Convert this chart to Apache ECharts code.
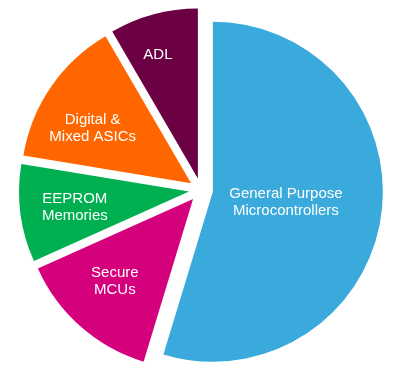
<!DOCTYPE html>
<html>
<head>
<meta charset="utf-8">
<script src="https://cdn.jsdelivr.net/npm/echarts@6/dist/echarts.min.js"></script>
<style>
  html, body { margin: 0; padding: 0; background: #fff; }
  #main { width: 417px; height: 377px; }
</style>
</head>
<body>
<div id="main"></div>
<script>
// 数据（从图上估读的份额，单位：%）
var names = ['General Purpose\nMicrocontrollers', 'Secure\nMCUs', 'EEPROM\nMemories', 'Digital &\nMixed ASICs', 'ADL'];
var values = [54.7, 13.6, 9.3, 14.0, 8.4];
var colors = ['#3aa9dc', '#d5007b', '#00b050', '#ff6600', '#6b0043'];

// 标签微调
var labelShift = [[-14, -2], [-20, 16], [-27, 5], [-26, -5], [-17, -39]];

var pie = echarts.init(document.getElementById('main'));

var seriesData = [];
names.forEach(function (n, i) {
    seriesData.push({
        name: n,
        value: values[i],
        selected: true,
        itemStyle: { color: colors[i] }
    });
});

var option = {
    animation: false,
    series: [
        {
            type: 'pie',
            center: [201, 190],
            radius: 170,
            startAngle: 90,
            clockwise: true,
            selectedMode: 'multiple',
            selectedOffset: 12,
            avoidLabelOverlap: false,
            label: {
                show: true,
                position: 'inside',
                color: '#fff',
                fontFamily: 'Liberation Sans, Arial, sans-serif',
                fontSize: 15,
                lineHeight: 17,
                align: 'center'
            },
            labelLine: { show: false },
            labelLayout: function (params) {
                var s = labelShift[params.dataIndex];
                return { dx: s[0], dy: s[1] };
            },
            emphasis: { disabled: true },
            data: seriesData
        }
    ]
};

pie.setOption(option);
</script>
</body>
</html>
